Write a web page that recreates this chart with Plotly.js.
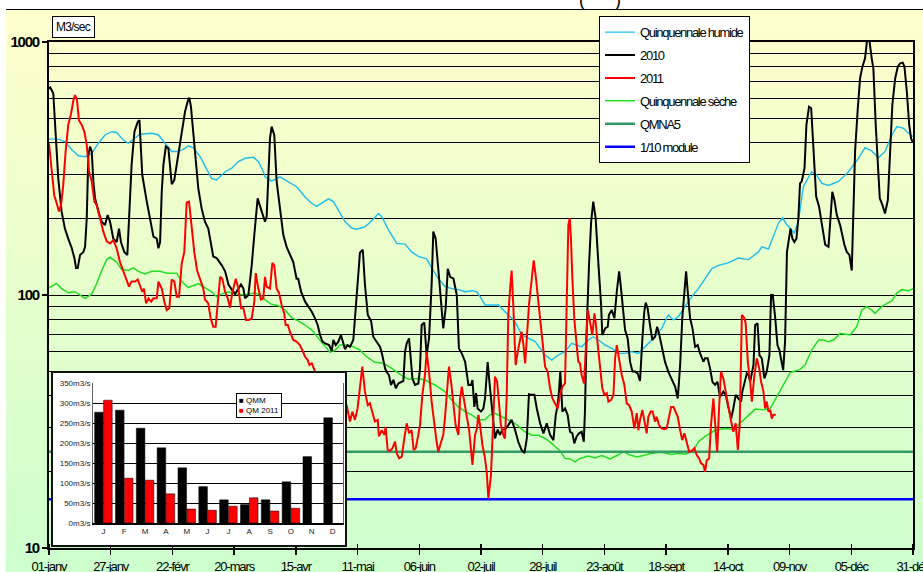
<!DOCTYPE html>
<html>
<head>
<meta charset="utf-8">
<script src="https://cdn.plot.ly/plotly-3.0.1.min.js"></script>
<style>
  html,body{margin:0;padding:0;background:#fff;}
  #wrap{position:relative;width:923px;height:572px;overflow:hidden;}
  #bg{position:absolute;left:6px;top:9px;right:0;bottom:0;border-top:1px solid #000;background:linear-gradient(#FFFFCC,#CCFFCC);}
  #main{position:absolute;left:0;top:0;width:923px;height:572px;}
  #inset{position:absolute;left:51px;top:371px;width:292px;height:172px;border:2px solid #111;background:#fff;}
  .legendtext{letter-spacing:-1.3px;}
  #main .xtick text{letter-spacing:-1.1px;}
  #main .ytick text{letter-spacing:-1.2px;}
  #inset text{letter-spacing:0;}
</style>
</head>
<body>
<div id="wrap">
  <div id="bg"></div>
  <div id="main"></div>
  <div id="inset"></div>
</div>
<script>
// ---------- data ----------
const dayTicks = [0,26,52,78,104,130,156,182,208,234,260,286,312,338,364];
const dayLabels = ['01-janv','27-janv','22-févr','20-mars','15-avr','11-mai','06-juin','02-juil','28-juil','23-août','18-sept','14-oct','09-nov','05-déc','31-déc'];

// [day of year, m3/s]
const quinqHumide = [[0,413],[3.9,413],[6.7,404],[9.6,375],[12.4,355],[15.2,352],[18,363],[20.8,398],[23.6,429],[26.4,442],[28.5,439],[31.3,410],[33.4,398],[36.2,416],[38.3,432],[43.3,436],[46.1,429],[48.9,398],[51.7,369],[54.5,369],[57.3,380],[58.7,389],[60.8,382],[63.6,353],[65.7,322],[68.5,289],[70.6,285],[74.2,307],[77,317],[79.8,337],[82.6,347],[86.1,350],[88.2,337],[90.3,307],[91,293],[93.8,282],[97.3,293],[100.8,281],[104.3,268],[107.9,244],[110.7,230],[112.8,224],[114.9,230],[117.7,240],[119.8,234],[121.9,217],[124.7,195],[127.5,184],[129.6,182],[133.1,186],[135.9,196],[138.8,210],[140.2,204],[143,181],[146.5,160],[150,159],[152.8,148],[155.6,142],[159.1,139],[161.2,128],[164,116],[166.8,108],[169.7,106],[172.5,105],[175.3,103],[178.1,104],[180.2,103],[181.6,98.5],[183.7,91.3],[189.3,91.3],[192.1,85.9],[196.3,78.5],[199.2,69.5],[202,67.4],[204.8,65.4],[209,57.9],[211.8,55.3],[214.6,57.9],[217.4,59.7],[220.2,64.4],[224.4,62.4],[227.2,66.4],[229.3,68.4],[231.5,66.4],[234.3,63.4],[237.1,61.5],[239.9,58.8],[242.7,58.8],[245.5,59.7],[248.3,58.8],[251.1,62.4],[255.3,68.4],[258.1,73.8],[260.9,83.4],[263.1,79.7],[265.2,82.1],[267.9,89.9],[270.8,98.5],[273.6,106],[276.4,116],[279.2,127],[282,131],[286.2,134],[290.4,140],[294.7,138],[298.9,148],[300.3,155],[303.1,152],[307.3,192],[309,202],[310.8,190],[314,176],[315.7,195],[317.8,268],[321.3,307],[323.4,298],[325.6,276],[328.4,271],[332.6,281],[336.8,307],[341,347],[343.8,382],[346.6,371],[349.4,349],[352.2,369],[355.1,429],[357.2,463],[360,456],[362.1,436],[364,423]];

const quinqSeche = [[0,107],[3.2,111],[5.3,106],[8.1,102],[11,103],[13.1,100],[15.2,96.7],[18,101],[20.1,111],[22.2,125],[24.3,138],[25.7,141],[28.5,135],[30.6,126],[33.4,125],[35.5,128],[37.6,124],[40.4,121],[43.3,124],[46.8,124],[49.6,122],[53.8,122],[55.9,113],[58.7,107],[60.8,109],[62.9,111],[65.7,107],[68.5,103],[70.6,98.5],[72.8,101],[75.6,103],[78.4,101],[82.6,100],[86.8,102],[88.9,100],[91,95.6],[93.8,91.9],[96.6,90.7],[99.4,87.3],[102.2,81.4],[105,79],[107.9,76.1],[110.7,72.7],[113.5,67.4],[116.3,62.4],[118.4,59.3],[120.5,60.6],[122.6,63.4],[125.4,63.4],[128.2,62.4],[131,60.6],[133.8,57],[137.3,54.2],[140.9,53.7],[144.4,51.3],[147.9,48.6],[151.4,46.5],[155.6,46.8],[158.4,46.1],[162.6,44.1],[166.8,41.5],[169.7,38.4],[172.5,36.1],[175.3,34.6],[178.1,33.6],[180.9,32.1],[183.7,32.1],[185.8,33.6],[187.9,34.1],[192.1,32.5],[196.3,31.1],[200.6,28.8],[203.4,27.9],[206.2,27.9],[209,27.1],[211.8,25.9],[215.3,24.2],[217.4,22.6],[219.5,22.5],[221.6,21.9],[223.7,22.6],[227.2,23.1],[230,22.7],[232.9,23.2],[236.4,22.5],[239.2,23.2],[242,24],[244.8,23.3],[247.6,22.9],[250.4,23.2],[253.9,23.7],[258.1,23.9],[262.4,23.4],[265.2,23.7],[268,23.5],[270.1,23.9],[271.5,24.3],[273.6,26.3],[276.4,27.6],[280.6,29.2],[284.8,29.7],[288.3,29.4],[291.1,31.1],[293.9,33],[297.5,35.4],[301,35.2],[303.8,35.6],[306.6,39.6],[309.4,44.1],[312.2,49.3],[316.4,50.8],[318.5,52.9],[321.3,60.6],[324.2,66.4],[326.3,66.4],[328.4,65.4],[330.5,66.4],[333.3,70.5],[335.4,70],[337.5,69.5],[340.3,74.9],[342.4,87.2],[344.5,89.9],[346.6,87.2],[348,84.6],[350.8,89.9],[353,92.7],[355.1,94.8],[357.2,102],[359.3,105],[362.1,104],[364,106]];

const y2010 = [[0,656],[0.5,661],[1.8,627],[2.8,442],[3.9,289],[5.3,214],[6.7,183],[8.1,167],[9.6,153],[10.7,140],[11.4,128],[12.1,128],[13.1,144],[14.5,148],[15.2,155],[15.9,201],[16.6,358],[17.3,386],[18,369],[18.7,281],[19.4,241],[20.8,214],[22.2,195],[23.6,189],[24.7,207],[25.7,195],[27.1,167],[28.5,162],[29.5,183],[30.3,162],[31.7,148],[33,144],[33.7,201],[34.8,327],[36,442],[37.4,484],[38.1,491],[39.3,298],[41.2,234],[42.6,201],[44,170],[45.4,167],[46.1,153],[46.8,162],[47.5,256],[48.2,327],[49.2,386],[50.3,380],[51.4,298],[51.7,274],[52.8,285],[53.8,327],[54.5,369],[55.9,456],[57.3,530],[58.4,581],[59.1,603],[59.8,555],[60.8,429],[62.2,317],[62.9,264],[64.3,220],[65.7,195],[67.1,183],[68.5,158],[69.2,142],[70.6,140],[72.8,131],[74.2,124],[75.6,110],[77,105],[78.4,101],[79.8,106],[80.9,110],[81.9,106],[82.6,97],[84,100],[85.4,131],[86.5,173],[87.9,241],[89.6,214],[91,195],[91.7,204],[92.4,298],[93.1,416],[93.8,463],[94.9,429],[95.9,281],[97.3,214],[98.7,173],[100.1,155],[101.5,144],[102.9,135],[104.3,116],[105,116],[106.2,103],[107.9,94.1],[109.3,90],[110.7,85.9],[112.1,80.9],[113.2,76.1],[114.2,69.5],[115.2,65.4],[116.3,64.4],[118,63.4],[119.1,60],[119.8,66.4],[120.8,63.4],[121.9,65.4],[123,69.5],[124,63.8],[124.7,61.1],[125.8,63.4],[126.8,62.4],[128.2,66.4],[128.9,80.9],[130,106],[131,147],[132.2,151],[133.1,110],[134.3,83.4],[135.7,79],[136.6,68.4],[138.1,65.4],[139.5,62.4],[140.4,57.9],[141.6,51.3],[142.3,49.5],[143.2,48.3],[144.1,44.1],[145.1,46.2],[146.1,42.8],[147.2,44.7],[148.6,45.4],[149.3,45.7],[150,59.7],[150.7,64.4],[151.7,67.4],[152.4,56.2],[153.1,46.8],[154.2,44.1],[155.6,44.7],[156.3,51.3],[157,76.1],[158.1,77.8],[159.1,57.9],[160.1,67.4],[161.2,110],[161.9,178],[162.9,167],[164,127],[165.2,97],[166.1,73.8],[167.1,88.6],[168,127],[169,118],[170.4,116],[171.8,100],[172.7,61.5],[173.9,58.8],[175.3,54.5],[176.7,44.1],[177.8,44.1],[178.4,46.1],[179.2,36.1],[179.9,40.9],[180.6,35.6],[182,34.6],[183,35.6],[183.7,39],[184.8,54.3],[185.8,42.8],[186.8,33.6],[187.9,27.1],[189,29.4],[190,28],[191,29.4],[192.1,29.4],[193.5,30.6],[194.9,32.1],[196.3,29.4],[197.7,26.3],[199.1,24.4],[200.3,23.7],[201.3,27.1],[202.2,40.5],[203.4,40.3],[204.5,40.3],[205.5,35.6],[206.9,31.1],[208.3,28.4],[209.7,31.1],[211.1,28],[212.5,26.7],[213.5,33.6],[214.3,36.7],[214.9,42.1],[215.4,49.8],[216.3,34.6],[217.4,35.6],[218.5,33.6],[219.5,28.8],[220.5,28.4],[221.3,25.9],[222.3,27.6],[223.3,28.4],[224.4,28.8],[225.3,26.3],[225.8,34.6],[226.5,71.6],[227.5,131],[228.4,195],[229.3,234],[230.3,201],[231.5,131],[232.6,91.3],[233.1,69.5],[234.3,73.8],[235.4,74.9],[235.9,83.4],[237.1,87.2],[238.2,80.9],[239.2,103],[240.2,124],[241,106],[242,85.9],[242.7,72.7],[243.8,67.4],[244.8,54.5],[245.8,49.8],[246.9,49.8],[248,49],[249,45.7],[250,67.4],[250.8,85.9],[251.4,93.3],[252.2,88.6],[253.2,76.1],[254.2,66.4],[255.3,68.4],[256.2,74.9],[257,70.5],[258.1,63.4],[259.5,54.5],[260.9,49.8],[262.4,46.1],[263.8,43.4],[264.9,39],[265.9,52.9],[266.8,80.9],[267.7,106],[268.4,124],[269.1,103],[270.1,80.9],[271.1,73.8],[272.2,62.4],[273.3,63.4],[274.3,58.8],[275.7,54.5],[276.4,56.2],[277.5,56.2],[278.5,51.3],[279.5,45.4],[280.6,44.1],[281.6,45.4],[282.7,39.6],[284.1,41.5],[285.1,40.3],[286.2,36.1],[287.4,32.5],[288.3,35.6],[289.3,40.3],[290.4,39],[291.6,37.9],[292.1,41.5],[293,45.4],[294,49],[294.7,48.3],[295.4,45.4],[296.8,52.9],[297.5,76.1],[298.5,77.2],[299.3,57.9],[300.3,56.2],[301.4,46.8],[302.4,49.8],[303.5,57.9],[304.2,100],[304.9,100],[305.9,82.1],[306.9,63.4],[307.7,60.6],[308.3,56.2],[309.3,50.5],[310.1,65.4],[310.9,148],[312.4,183],[313.2,167],[314,162],[314.9,167],[315.7,201],[316.4,276],[317.1,281],[318.3,317],[319.1,470],[320.2,555],[321.1,547],[322,369],[323.2,245],[324.4,224],[325.8,189],[327,158],[328.4,155],[329.1,195],[330,256],[330.9,237],[331.9,207],[333.3,189],[334,176],[335.1,158],[336.1,148],[337.2,144],[338.2,125],[338.9,214],[339.6,369],[340.7,539],[341.7,719],[342.7,799],[343.8,862],[344.8,1050],[345.5,1040],[346.6,862],[347.3,787],[348.3,470],[349.2,307],[350,241],[351.1,227],[352.2,210],[353.4,237],[354.4,404],[355.3,564],[356.5,719],[357.6,799],[358.6,824],[359.7,829],[360.4,799],[361.4,636],[362.4,470],[363.2,416],[364,400]];

const y2011 = [[0,398],[0.5,358],[1.1,307],[2.2,248],[3.2,231],[4.2,214],[5.1,227],[6,272],[7,369],[8.1,470],[9.3,522],[10.3,590],[11,617],[11.8,590],[12.6,491],[13.8,470],[14.9,442],[15.9,392],[16.9,307],[18,281],[19.1,234],[20.1,227],[21.5,201],[22.9,178],[24.3,163],[25.7,160],[27.1,165],[28.5,153],[29.9,135],[31.3,124],[32.7,115],[33.7,108],[34.8,113],[36.2,113],[37.4,115],[38.3,108],[39.3,103],[40,106],[40.9,92.7],[41.9,97],[43,94.1],[44,97],[45.4,97],[46.1,113],[47.5,106],[48.6,94.1],[49.6,87.2],[50.7,88.6],[51.7,115],[52.8,113],[53.8,98.5],[54.8,98.5],[55.9,133],[57,148],[58,232],[59,234],[60.1,183],[61.2,148],[62.4,125],[63.6,116],[65,106],[65.7,96],[67.1,92.7],[68.1,80.9],[69.2,74.9],[70.2,74.9],[71.1,91.3],[72.1,118],[73,116],[74.2,103],[75.3,97],[76.3,89.1],[77.2,102],[78.7,116],[79.8,106],[80.9,88.6],[81.9,88.6],[83,79.7],[84.3,79.7],[85.4,80.9],[86.5,94.1],[87.1,122],[88.2,106],[89.3,95.9],[90.3,97],[91,118],[91.7,108],[93.1,106],[94.1,134],[94.9,131],[95.9,106],[96.9,102],[98,91.3],[99.1,84.6],[99.7,76.1],[100.6,76.1],[101.5,71.6],[102.9,66.4],[104.3,65.4],[105.7,63.4],[106.7,60.6],[107.9,57],[109,55.3],[109.7,52.9],[110.7,53.7],[111.4,51.3],[112.1,49.8],[113.2,48.3],[117.7,44.1],[121.9,40.3],[125.4,36.7],[126.1,34.1],[126.8,31.6],[127.8,34.6],[128.9,32.1],[130,35.6],[131,44.1],[132,52.1],[133.1,41.5],[134.3,36.7],[135.2,37.3],[136.2,34.1],[137.3,31.6],[138.5,32.1],[139,27.6],[140.2,29.2],[141.3,28],[141.8,30.1],[142.7,24.4],[143.7,24.2],[144.7,24.8],[145.8,26.3],[146.5,23.7],[147.5,22.6],[148.6,22.9],[149.7,27.1],[150.7,31.1],[151.7,28.4],[152.8,29.2],[153.6,24.4],[154.5,24.8],[155.6,28],[156.3,30.6],[157.3,40.3],[158.4,48.3],[159.1,59.7],[160.1,49.8],[161.2,37.9],[162.3,30.6],[163.3,26.3],[164,24],[165.2,25.9],[166.1,28],[166.8,32.5],[168,44.1],[168.5,52.1],[169.4,45.4],[170.4,36.7],[171.3,30.6],[172.5,28],[173.2,39],[173.9,43.4],[175,37.9],[176,32.5],[177,29.2],[177.8,24.4],[178.4,21.3],[179.5,28],[180.3,29.7],[180.9,33.6],[181.6,30.6],[182.6,25.5],[183.7,22.6],[184.4,20],[185.1,15.7],[186.2,19.4],[187.2,34.6],[187.9,47.6],[188.8,45.4],[189.6,36.7],[190.4,30.6],[191.4,28],[192.1,27.1],[192.8,39],[193.5,83.4],[194.4,110],[194.9,125],[195.6,91.3],[196.6,52.9],[197.5,59.7],[198.3,65.4],[199.1,71.6],[199.9,63.4],[200.6,53.7],[201.3,67.4],[202.2,91.3],[203.4,116],[204.2,137],[205,120],[205.9,100],[206.9,80.9],[207.9,63.4],[209,52.1],[210.1,49.8],[211.1,42.8],[212.1,39],[213.2,37.3],[214.3,35.6],[215.3,40.3],[216.3,43.4],[217.4,44.7],[218.1,80.9],[218.8,189],[219.4,201],[219.9,167],[220.5,116],[221.3,80.9],[222.3,63.4],[223,54.5],[223.7,53.7],[224.4,48.3],[225.4,44.7],[226.1,63.4],[227,87.2],[227.9,78.5],[228.9,69.5],[229.8,84.6],[230.3,78.5],[231.2,63.4],[232.2,51.3],[233.1,42.8],[234,40.3],[235,40.9],[235.7,37.9],[236.8,38.4],[237.8,40.3],[238.5,56.2],[239.2,63.4],[240.2,54.5],[241.3,48.3],[242.4,44.1],[243.4,37.3],[244.4,36.7],[245.5,34.6],[246.6,29.7],[247.6,34.1],[248.3,29.2],[249,32.1],[250,35.1],[250.8,31.6],[251.8,28.4],[252.5,33],[253.5,34.6],[254.3,34.6],[255.3,31.6],[256,33],[257,30.6],[258.1,29.7],[259.3,29.5],[260.2,29.7],[261.2,33],[262.1,36.1],[263.1,36.1],[264,34.6],[264.9,33],[265.9,29.2],[266.8,26.7],[267.7,28.4],[268.7,25.7],[269.7,24],[270.8,24.2],[271.9,24.8],[272.9,23.3],[273.9,22.6],[274.7,21.6],[275.7,21.3],[276.4,20],[277.1,22.2],[278.1,22.6],[278.9,30.6],[279.9,39],[280.6,30.6],[281.5,24],[282.3,35.6],[283.1,49.8],[284.1,46.8],[285.1,41.5],[286.2,35.6],[287.4,31.6],[288.3,28.8],[289.3,31.1],[290.2,24.4],[291,30.6],[291.9,83.4],[293,80.9],[293.5,77.2],[294.4,54.5],[295.4,45.4],[296.1,37.9],[297.2,48.3],[298.2,56.2],[299.2,51.3],[300,45.4],[301,41.5],[301.7,35.6],[302.4,37.9],[303.1,34.6],[303.9,35.1],[304.5,32.5],[305.2,33.6],[306.2,33.6]];

const qmna5 = 24;       // m3/s
const module10 = 15.6;  // m3/s

// inset: monthly means
const months = [1,2,3,4,5,6,7,8,9,10,11,12];
const monthLabels = ['J','F','M','A','M','J','J','A','S','O','N','D'];
const qmm = [277,282,237,188,138,91,58,46,58,103,166,263];
const qm2011 = [307,112,107,73,35,32,42,63,30,37,null,null];

// ---------- drawing ----------
const FONT = "'Liberation Sans',Arial,sans-serif";
const xs = p => p.map(d => d[0]);
const ys = p => p.map(d => d[1]);
const span = [dayTicks[0], dayTicks[dayTicks.length-1]];

const minorVals = [];
[10,100].forEach(b => { for (let k = 2; k <= 9; k++) minorVals.push(k*b); });

const traces = [
  {name:'Quinquennale humide', x:xs(quinqHumide), y:ys(quinqHumide), mode:'lines', line:{color:'#1CBDF0', width:1.4}, legendrank:1, legendgroup:'a'},
  {name:'Quinquennale sèche', x:xs(quinqSeche), y:ys(quinqSeche), mode:'lines', line:{color:'#22E022', width:1.5}, legendrank:4, legendgroup:'d'},
  {name:'QMNA5', x:span, y:[qmna5,qmna5], mode:'lines', line:{color:'#339966', width:2.5}, legendrank:5, legendgroup:'e'},
  {name:'1/10 module', x:span, y:[module10,module10], mode:'lines', line:{color:'#0000FF', width:2.5}, legendrank:6, legendgroup:'f'},
  {name:'2010', x:xs(y2010), y:ys(y2010), mode:'lines', line:{color:'#000000', width:2}, legendrank:2, legendgroup:'b'},
  {name:'2011', x:xs(y2011), y:ys(y2011), mode:'lines', line:{color:'#FF0000', width:2}, legendrank:3, legendgroup:'c'}
];

const layout = {
  width:923, height:572,
  margin:{l:49, r:10, t:42, b:24, pad:0},
  paper_bgcolor:'rgba(0,0,0,0)', plot_bgcolor:'rgba(0,0,0,0)',
  font:{family:FONT, size:12, color:'#000'},
  title:{text:'(\u00a0\u00a0\u00a0\u00a0\u00a0\u00a0)', font:{family:FONT, size:18, color:'#000'}, x:0.65, xref:'container', xanchor:'center', y:1, yref:'container', yanchor:'middle'},
  showlegend:true,
  legend:{x:0.6366, y:1.051, xanchor:'left', yanchor:'top', bgcolor:'#FFFFFF', bordercolor:'#000', borderwidth:1, font:{family:FONT, size:13, color:'#000'}, tracegroupgap:3, itemwidth:30},
  xaxis:{range:span, tickvals:dayTicks, ticktext:dayLabels, ticks:'outside', ticklen:5, tickwidth:1.5, tickcolor:'#000',
         showline:true, linecolor:'#000', linewidth:2, mirror:true, showgrid:false, zeroline:false, ticklabeloverflow:'allow',
         tickfont:{family:FONT, size:13, color:'#000'},
         minor:{tickvals:dayTicks, ticks:'inside', ticklen:4, tickwidth:1.5, tickcolor:'#000', showgrid:false}},
  yaxis:{type:'log', range:[1,3], tickvals:[10,100,1000], ticktext:['10','100','1000'], ticks:'outside', ticklen:5, tickwidth:1.5, tickcolor:'#000',
         showline:true, linecolor:'#000', linewidth:2, mirror:true, showgrid:true, gridcolor:'#000', gridwidth:1, zeroline:false,
         tickfont:{family:FONT, size:15, weight:'bold', color:'#000'},
         minor:{tickvals:minorVals, showgrid:true, gridcolor:'#000', gridwidth:1, ticks:''}},
  annotations:[
    {text:'<span style="letter-spacing:-0.8px">M3/sec</span>', xref:'paper', yref:'paper', x:0.0035, y:1.008, xanchor:'left', yanchor:'bottom', showarrow:false,
     bgcolor:'#FFFFFF', bordercolor:'#000', borderwidth:1, borderpad:3, font:{family:FONT, size:12, color:'#000'}}
  ]
};

Plotly.newPlot('main', traces, layout, {displayModeBar:false, staticPlot:true});

// inset bar chart
const insetTraces = [
  {type:'bar', name:'QMM', x:months, y:qmm, marker:{color:'#000000', line:{color:'#000', width:0.5}}},
  {type:'bar', name:'QM 2011', x:months, y:qm2011, marker:{color:'#FF0000', line:{color:'#000', width:0.5}}}
];
const insetLayout = {
  width:292, height:172,
  margin:{l:40, r:2, t:10, b:22, pad:0},
  paper_bgcolor:'#FFFFFF', plot_bgcolor:'#FFFFFF',
  font:{family:FONT, size:8, color:'#222'},
  showlegend:false,
  barmode:'group', bargap:0.14, bargroupgap:0.04,
  xaxis:{range:[0.5,12.5], tickvals:months, ticktext:monthLabels, ticks:'', showline:true, linecolor:'#000', linewidth:1.5,
         mirror:false, showgrid:false, zeroline:false, tickfont:{size:8, color:'#222'}},
  yaxis:{range:[0,350], dtick:50, ticksuffix:'m3/s', ticks:'', showline:true, linecolor:'#666', linewidth:1, mirror:true,
         showgrid:true, gridcolor:'#000', gridwidth:1, zeroline:false, tickfont:{size:8, color:'#222'}},
  annotations:[
    {text:'<span style="letter-spacing:0px"><span style="color:#000">■</span> QMM<br><span style="color:#FF0000">■</span> QM 2011</span>', xref:'paper', yref:'paper',
     x:0.57, y:0.93, xanchor:'left', yanchor:'top', align:'left', showarrow:false, bgcolor:'#FFFFFF', bordercolor:'#000', borderwidth:1, borderpad:2,
     font:{size:8, color:'#000'}}
  ]
};
Plotly.newPlot('inset', insetTraces, insetLayout, {displayModeBar:false, staticPlot:true});
</script>
</body>
</html>
